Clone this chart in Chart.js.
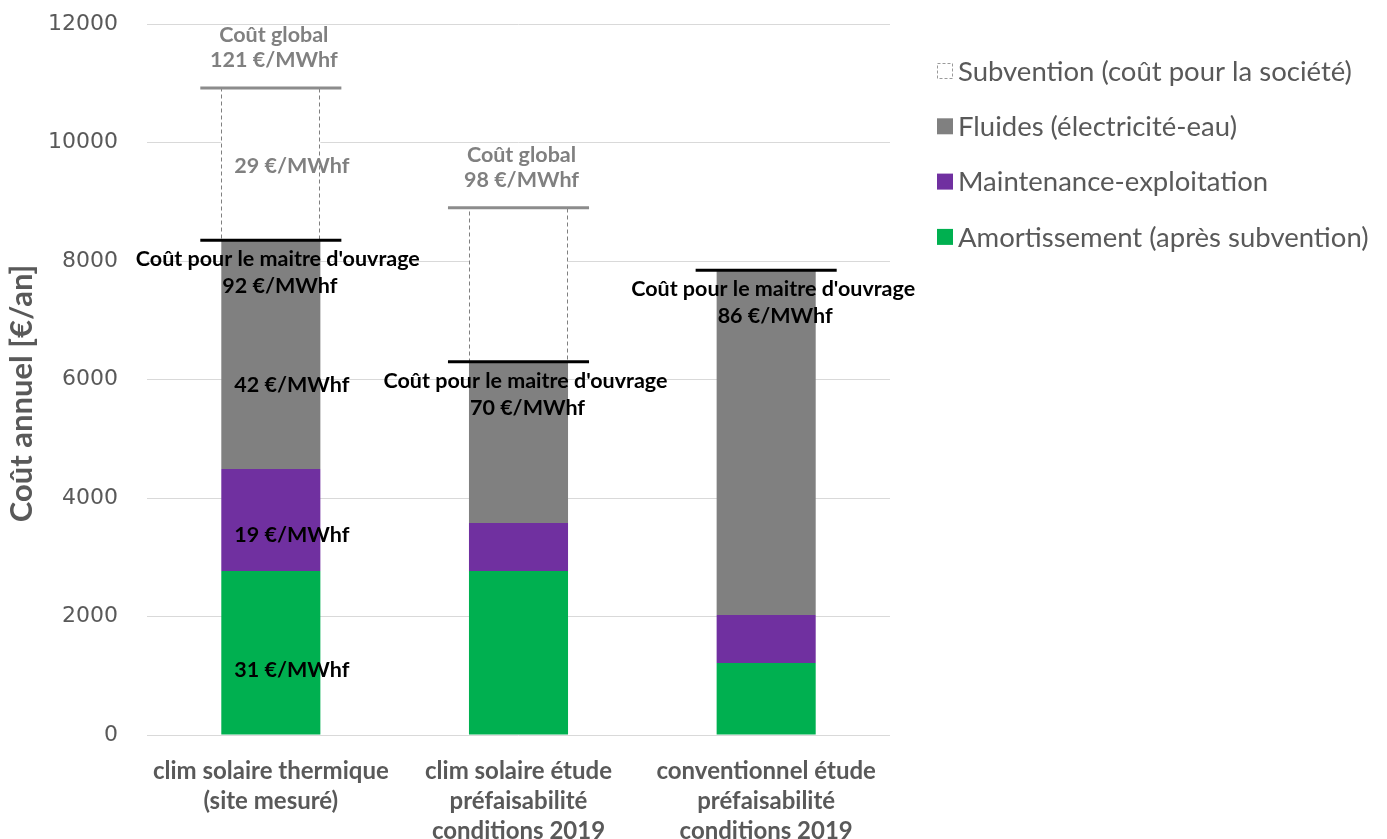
<!DOCTYPE html>
<html><head><meta charset="utf-8">
<script src="https://cdn.jsdelivr.net/npm/chart.js@4.4.1/dist/chart.umd.min.js"></script>
<style>html,body{margin:0;padding:0;background:#fff}#wrap{width:1387px;height:839px;position:relative}</style>
</head><body><div id="wrap"><canvas id="c" width="1387" height="839"></canvas></div>
<script>
// ---- data ----
const categories = [
  ['clim solaire thermique', '(site mesuré)'],
  ['clim solaire étude', 'préfaisabilité', 'conditions 2019'],
  ['conventionnel étude', 'préfaisabilité', 'conditions 2019']
];
const amortissement = [2770, 2770, 1215];
const maintenance   = [1720, 810, 810];
const fluides       = [3860, 2720, 5820];
const subvention    = [2570, 2600, 0];
const yMin = 0, yMax = 12000, yStep = 2000;
const yTitle = 'Coût annuel [€/an]';
const seriesNames = ['Amortissement (après subvention)', 'Maintenance-exploitation', 'Fluides (électricité-eau)', 'Subvention (coût pour la société)'];
const amortLabels = ['31 €/MWhf', null, null];
const maintLabels = ['19 €/MWhf', null, null];
const fluidLabels = ['42 €/MWhf', null, null];
const subvLabels  = ['29 €/MWhf', null, null];
const ownerCostLabels  = ['92 €/MWhf', '70 €/MWhf', '86 €/MWhf'];
const globalCostLabels = ['121 €/MWhf', '98 €/MWhf', null];
const ownerCostTitle = "Coût pour le maitre d'ouvrage";
const globalCostTitle = 'Coût global';

// ---- styles ----
const COLORS = ['#00b050', '#7030a0', '#808080', '#ffffff'];
const TXT = '#595959';
const ANNOT_FONT = 'bold 21.5px Lato';

const overlay = {
  id: 'overlay',
  afterDatasetsDraw(chart) {
    const ctx = chart.ctx;
    const ys = chart.scales.y;
    const metas = [0,1,2,3].map(i => chart.getDatasetMeta(i));
    ctx.save();
    metas[3].data.forEach((bar, i) => {
      if (!subvention[i]) return;
      const p = bar.getProps(['x','y','base','width'], true);
      ctx.setLineDash([4, 3]);
      ctx.strokeStyle = '#7f7f7f';
      ctx.lineWidth = 1;
      ctx.strokeRect(Math.round(p.x - p.width/2) + 0.5, Math.round(p.y) + 0.5, Math.round(p.width) - 1, Math.round(p.base - p.y));
    });
    ctx.setLineDash([]);
    ctx.textAlign = 'center';
    ctx.textBaseline = 'middle';
    ctx.font = ANNOT_FONT;
    const segLabels = [amortLabels, maintLabels, fluidLabels, subvLabels];
    const segOffsets = [17, 15, 30, 2];
    segLabels.forEach((arr, s) => {
      metas[s].data.forEach((bar, i) => {
        if (!arr[i]) return;
        const p = bar.getProps(['x','y','base'], true);
        ctx.fillStyle = s === 3 ? '#808080' : '#000000';
        ctx.fillText(arr[i], p.x + 21, (p.y + p.base) / 2 + segOffsets[s]);
      });
    });
    metas[0].data.forEach((bar, i) => {
      const p = bar.getProps(['x','width'], true);
      const hw = p.width / 2 + 21;
      const owner = amortissement[i] + maintenance[i] + fluides[i];
      const yo = ys.getPixelForValue(owner);
      if (subvention[i]) {
        const yg = ys.getPixelForValue(owner + subvention[i]);
        ctx.strokeStyle = '#8c8c8c';
        ctx.lineWidth = 3;
        ctx.beginPath(); ctx.moveTo(p.x - hw, yg); ctx.lineTo(p.x + hw, yg); ctx.stroke();
        ctx.fillStyle = '#808080';
        ctx.fillText(globalCostTitle, p.x + 3, yg - 53);
        ctx.fillText(globalCostLabels[i], p.x + 3, yg - 28);
      }
      ctx.strokeStyle = '#000000';
      ctx.lineWidth = 3;
      ctx.beginPath(); ctx.moveTo(p.x - hw, yo); ctx.lineTo(p.x + hw, yo); ctx.stroke();
      ctx.fillStyle = '#000000';
      ctx.fillText(ownerCostTitle, p.x + 7, yo + 19);
      ctx.fillText(ownerCostLabels[i], p.x + 9, yo + 46);
    });
    ctx.restore();
  },
  afterDraw(chart) {
    const ctx = chart.ctx;
    const a = chart.chartArea;
    ctx.save();
    // y axis title
    ctx.font = 'bold 31px Lato';
    ctx.fillStyle = TXT;
    ctx.textAlign = 'center';
    ctx.textBaseline = 'middle';
    ctx.translate(22, (a.top + a.bottom) / 2 + 14);
    ctx.rotate(-Math.PI / 2);
    ctx.fillText(yTitle, 0, 0);
    ctx.restore();
    // legend (reverse order)
    ctx.save();
    ctx.font = '27.5px Lato';
    ctx.textBaseline = 'middle';
    ctx.textAlign = 'left';
    for (let k = 0; k < 4; k++) {
      const s = 3 - k;
      const cy = a.top + 47 + k * 55.3;
      const bx = a.right + 47;
      if (s === 3) {
        ctx.setLineDash([3, 2]);
        ctx.strokeStyle = '#9a9a9a';
        ctx.lineWidth = 1;
        ctx.strokeRect(bx + 0.5, cy - 8 + 0.5, 15, 15);
        ctx.setLineDash([]);
      } else {
        ctx.fillStyle = COLORS[s];
        ctx.fillRect(bx, cy - 8, 16, 16);
      }
      ctx.fillStyle = TXT;
      ctx.fillText(seriesNames[s], a.right + 68, cy + 1);
    }
    ctx.restore();
  }
};

new Chart(document.getElementById('c'), {
  type: 'bar',
  data: {
    labels: categories,
    datasets: [
      { label: seriesNames[0], data: amortissement, backgroundColor: COLORS[0] },
      { label: seriesNames[1], data: maintenance, backgroundColor: COLORS[1] },
      { label: seriesNames[2], data: fluides, backgroundColor: COLORS[2] },
      { label: seriesNames[3], data: subvention, backgroundColor: COLORS[3], borderWidth: 0 }
    ]
  },
  options: {
    responsive: false,
    animation: false,
    barPercentage: 0.4,
    categoryPercentage: 1.0,
    layout: { padding: { top: 24, right: 497, left: 0, bottom: 0 } },
    plugins: { legend: { display: false }, tooltip: { enabled: false } },
    scales: {
      x: {
        stacked: true,
        grid: { display: false },
        border: { display: false },
        ticks: { color: TXT, font: { family: 'Lato', weight: 'bold', size: 24, lineHeight: 1.25 }, padding: 13, maxRotation: 0, autoSkip: false },
        afterFit(s) { s.height = 104; }
      },
      y: {
        stacked: true,
        min: yMin, max: yMax,
        grid: { color: '#d9d9d9', lineWidth: 1, drawTicks: false },
        border: { display: false },
        ticks: { stepSize: yStep, color: TXT, font: { family: 'DejaVu Sans', size: 22 }, padding: 29, callback: v => String(v) },
        afterFit(s) { s.width = 147; s.paddingTop = 0; s.paddingBottom = 0; }
      }
    }
  },
  plugins: [overlay]
});
</script></body></html>
